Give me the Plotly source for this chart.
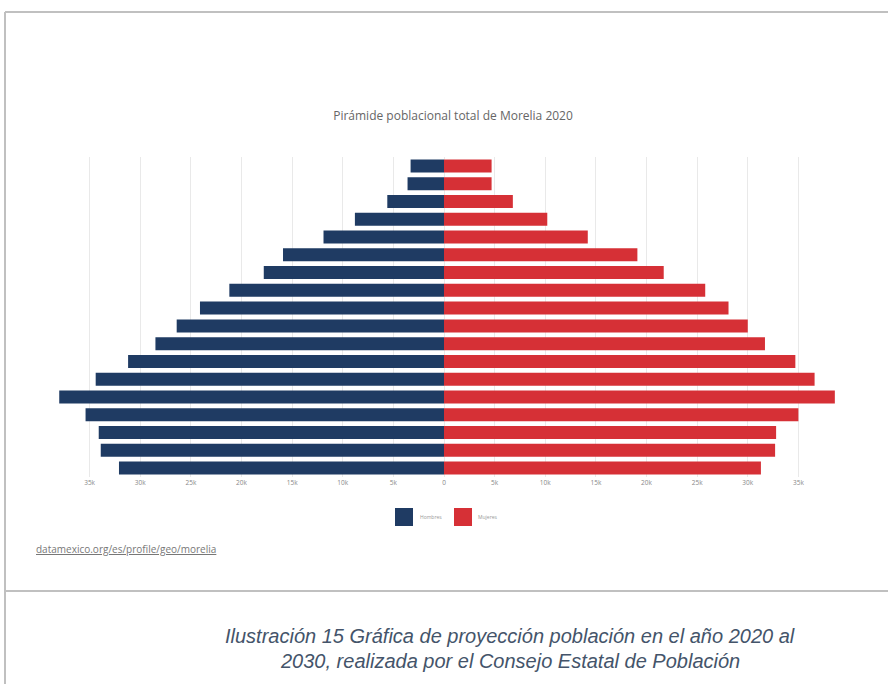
import plotly.graph_objects as go

# age groups, bottom to top
age_groups = ["0-4", "5-9", "10-14", "15-19", "20-24", "25-29", "30-34", "35-39", "40-44",
              "45-49", "50-54", "55-59", "60-64", "65-69", "70-74", "75-79", "80-84", "85+"]
hombres = [32100, 33900, 34100, 35400, 38000, 34400, 31200, 28500, 26400,
           24100, 21200, 17800, 15900, 11900, 8800, 5600, 3600, 3300]
mujeres = [31300, 32700, 32800, 35000, 38600, 36600, 34700, 31700, 30000,
           28100, 25800, 21700, 19100, 14200, 10200, 6800, 4700, 4700]
tick_values = [-35000, -30000, -25000, -20000, -15000, -10000, -5000, 0,
               5000, 10000, 15000, 20000, 25000, 30000, 35000]
tick_labels = ["35k", "30k", "25k", "20k", "15k", "10k", "5k", "0",
               "5k", "10k", "15k", "20k", "25k", "30k", "35k"]

W, H = 888, 684
L, R, T, B = 40, 40, 157, 207
PW, PH = W - L - R, H - T - B
NAVY = "#1f3b63"
RED = "#d63036"


def px(x):
    return (x - L) / PW


def py(y):
    return (H - B - y) / PH


fig = go.Figure()
fig.add_trace(go.Bar(y=age_groups, x=[-v for v in hombres], orientation="h", name="Hombres",
                     marker=dict(color=NAVY, line=dict(width=0)),
                     customdata=hombres, hovertemplate="%{y}: %{customdata:,}<extra>Hombres</extra>"))
fig.add_trace(go.Bar(y=age_groups, x=mujeres, orientation="h", name="Mujeres",
                     marker=dict(color=RED, line=dict(width=0)),
                     hovertemplate="%{y}: %{x:,}<extra>Mujeres</extra>"))

fig.update_layout(
    width=W, height=H,
    margin=dict(l=L, r=R, t=T, b=B, autoexpand=False),
    barmode="relative",
    bargap=0.27,
    showlegend=False,
    plot_bgcolor="white",
    paper_bgcolor="white",
    font=dict(family="Open Sans", color="#777"),
    xaxis=dict(
        range=[-39900, 39900],
        tickvals=tick_values,
        ticktext=tick_labels,
        showgrid=True,
        gridcolor="#e9e9e9",
        gridwidth=1,
        zeroline=False,
        showline=False,
        tickfont=dict(size=6.5, color="#888"),
        fixedrange=True,
    ),
    yaxis=dict(
        categoryorder="array",
        categoryarray=age_groups,
        showticklabels=False,
        showgrid=False,
        zeroline=False,
        fixedrange=True,
    ),
    title=dict(
        text="Pirámide poblacional total de Morelia 2020",
        x=453 / W, xanchor="center",
        y=1 - 116 / H, yanchor="middle",
        font=dict(size=12, color="#666", family="Open Sans"),
    ),
)

# document frame lines
frame = dict(type="line", xref="paper", yref="paper", line=dict(color="#c0c0c0", width=2))
fig.add_shape(x0=px(5), x1=px(W + 5), y0=py(12), y1=py(12), **frame)
fig.add_shape(x0=px(5), x1=px(5), y0=py(12), y1=py(H + 5), **frame)
fig.add_shape(x0=px(5), x1=px(W + 5), y0=py(591), y1=py(591), **frame)

# legend squares
for cx, color in [(404, NAVY), (463, RED)]:
    fig.add_shape(type="rect", xref="paper", yref="paper",
                  x0=px(cx - 9), x1=px(cx + 9), y0=py(508), y1=py(526),
                  fillcolor=color, line=dict(width=0))

notes = [
    ("Hombres", 418, 517, 5, "#999", "left", False),
    ("Mujeres", 476, 517, 5, "#999", "left", False),
    ("<u>datamexico.org/es/profile/geo/morelia</u>", 34, 549, 10, "#777", "left", False),
    ("Ilustración 15 Gráfica de proyección población en el año 2020 al", 510, 636, 20, "#44546a", "center", True),
    ("2030, realizada por el Consejo Estatal de Población", 510, 661, 20, "#44546a", "center", True),
]
for text, x, y, size, color, anchor, italic in notes:
    fig.add_annotation(
        text=f"<i>{text}</i>" if italic else text,
        xref="paper", yref="paper", x=px(x), y=py(y),
        xanchor=anchor, yanchor="middle", showarrow=False,
        font=dict(size=size, color=color,
                  family="Liberation Sans, Arial" if italic else "Open Sans"),
    )

fig.write_html("out.html", config={"displayModeBar": False},
               post_script="document.body.style.margin='0';")
